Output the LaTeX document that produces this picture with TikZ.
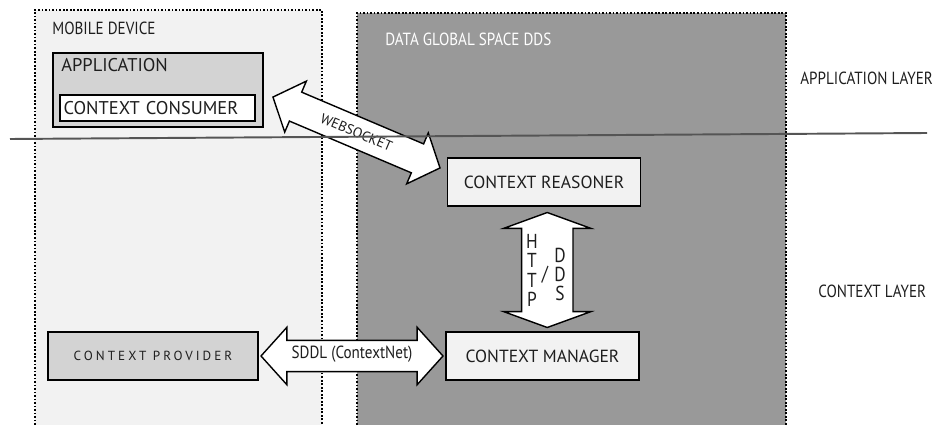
\documentclass[tikz,border=0pt]{standalone}
\usepackage{fontspec}
\setmainfont{PT Sans}
\newfontfamily\narrowsans[FakeStretch=0.86]{PT Sans}
\usetikzlibrary{shapes.arrows,positioning,calc}

\definecolor{devgray}{HTML}{F2F2F2}
\definecolor{ddsgray}{HTML}{999999}
\definecolor{boxgray}{HTML}{D3D3D3}
\definecolor{inkgray}{HTML}{1E1E1E}
\definecolor{layerline}{HTML}{555555}

\tikzset{
  region/.style={densely dotted, line width=1pt},
  lbl/.style={inner sep=0pt, anchor=base west, text=inkgray, font=\narrowsans\fontsize{10}{12}\selectfont},
  cbox/.style={draw, line width=0.8pt, fill=devgray, text=inkgray,
    minimum width=3.86cm, minimum height=0.96cm},
  bigarrow/.style={double arrow, draw, line width=0.8pt, fill=white,
    minimum width=0pt, inner xsep=0pt},
  stack/.style={align=center, inner sep=0pt, text=inkgray, font=\narrowsans\fontsize{11.5}{11}\selectfont},
}

\begin{document}
\begin{tikzpicture}[x=0.02cm,y=-0.02cm,font=\fontsize{10}{12}\selectfont]
    \useasboundingbox (0,0) rectangle (935,425);
    % the two areas
    \fill[devgray] (35,10) rectangle (322,425);
    \draw[region] (35,425) -- (35,10) -- (322,10) -- (322,425);
    \fill[ddsgray] (357,13) rectangle (786,425);
    \draw[region] (357,425) -- (357,13) -- (786,13) -- (786,425);
    \node[lbl] (dev) at (52,35) {MOBILE DEVICE};
    \node[lbl, text=white] (dds) at (385,46) {DATA GLOBAL SPACE DDS};

    % application
    \node[draw, line width=0.8pt, fill=boxgray, minimum width=4.2cm, minimum height=1.48cm] (app) at (158,90) {};
    \node[lbl, font=\fontsize{10.5}{12}\selectfont] (applbl) at (61,72) {APPLICATION};
    \node[draw, line width=0.8pt, fill=white, text=inkgray, minimum height=0.52cm, font=\fontsize{10.5}{12}\selectfont,
          text width=3.76cm, inner xsep=2pt, align=left] (cons) at (157.5,108) {CONTEXT CONSUMER};

    % context boxes
    \node[cbox] (rsn) at (544,182) {CONTEXT REASONER};
    \node[cbox] (mgr) at (542.5,356) {CONTEXT MANAGER};
    \node[cbox, fill=boxgray, minimum width=4.2cm,
          font=\fontsize{7.5}{9}\selectfont\addfontfeature{LetterSpace=23}] (prov) at (153,356) {CONTEXT PROVIDER};

    % block arrows
    \node[bigarrow, rotate=-23, minimum height=3.63cm, inner ysep=0.3cm,
          double arrow head extend=0.24cm, double arrow tip angle=97] (ws) at (356.5,132.5) {};
    \node[rotate=-23, text=inkgray, font=\fontsize{8}{9}\selectfont] (wslbl) at (ws.center) {WEBSOCKET};

    \node[bigarrow, rotate=90, minimum height=2.3cm, inner ysep=0.5cm,
          double arrow head extend=0.36cm, double arrow tip angle=140] (hd) at ($(rsn.south)!0.5!(mgr.north)+(4,1)$) {};
    \node[stack] (http) at (532,270.5) {H\\T\\T\\P};
    \node[stack] (slash) at (545,275) {/};
    \node[stack] (ddslbl) at (560,274.5) {D\\D\\S};

    \node[bigarrow, minimum height=3.64cm, inner ysep=0.3cm,
          double arrow head extend=0.26cm, double arrow tip angle=96] (sddl) at ($(prov.east)!0.5!(mgr.west)$) {};
    \node[text=inkgray, font=\narrowsans\fontsize{10}{12}\selectfont] (sddllbl) at ([yshift=1pt]sddl.center) {SDDL (ContextNet)};

    % layer border
    \coordinate (ll) at (10,139);
    \coordinate (lr) at (927,133);
    \draw[layerline, line width=1.1pt] (ll) -- (lr);
    \node[lbl] (applayer) at (800,85) {APPLICATION LAYER};
    \node[lbl] (ctxlayer) at (818,297) {CONTEXT LAYER};
\end{tikzpicture}
\end{document}
